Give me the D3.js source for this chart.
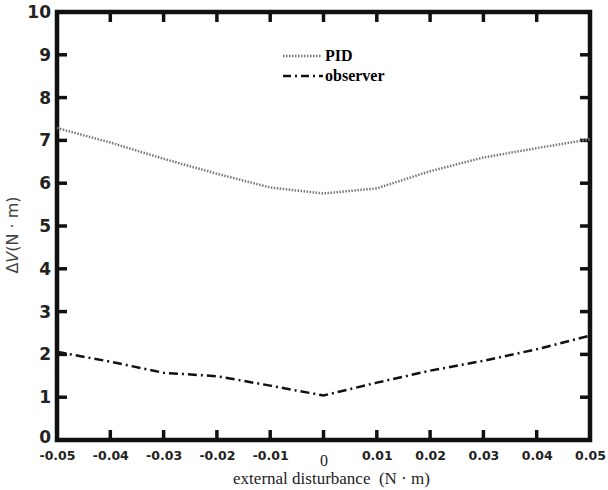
<!DOCTYPE html>
<meta charset="utf-8">
<script src="https://d3js.org/d3.v7.min.js"></script>
<style>
body { margin: 0; background: #fff; }
</style>
<body></body>
<script>

// x positions (external disturbance, N·m)
var disturbance = [-0.05, -0.04, -0.03, -0.02, -0.01, 0, 0.01, 0.02, 0.03, 0.04, 0.05];
// ΔV values
var pidValues = [7.29, 6.95, 6.57, 6.22, 5.9, 5.76, 5.88, 6.28, 6.6, 6.82, 7.03];
var observerValues = [2.06, 1.83, 1.57, 1.49, 1.27, 1.04, 1.34, 1.62, 1.85, 2.12, 2.44];
var xTicks = [-0.05, -0.04, -0.03, -0.02, -0.01, 0, 0.01, 0.02, 0.03, 0.04, 0.05];
var xTickLabels = ["-0.05", "-0.04", "-0.03", "-0.02", "-0.01", "0", "0.01", "0.02", "0.03", "0.04", "0.05"];
var yTicks = [0, 1, 2, 3, 4, 5, 6, 7, 8, 9, 10];

var W = 608, H = 490;
var margin = {top: 12, right: 18, bottom: 50, left: 57};
var width = W - margin.left - margin.right;
var height = H - margin.top - margin.bottom;

var svg = d3.select("body").append("svg")
    .attr("width", W)
    .attr("height", H)
  .append("g")
    .attr("transform", "translate(" + margin.left + "," + margin.top + ")");

var x = d3.scaleLinear().domain([-0.05, 0.05]).range([0, width]);
var y = d3.scaleLinear().domain([0, 10]).range([height, 0]);

// labels from the axes, tick marks drawn inward below
var xAxisB = d3.axisBottom(x).tickValues(xTicks).tickSize(0).tickPadding(11)
  .tickFormat(function(d, i) { return xTickLabels[i]; });
var yAxisL = d3.axisLeft(y).tickValues(yTicks).tickSize(0).tickPadding(12);

var gb = svg.append("g").attr("transform", "translate(0," + height + ")").call(xAxisB);
gb.select(".domain").remove();
gb.selectAll(".tick text")
  .style("font-family", "'DejaVu Sans', sans-serif").style("font-weight", "bold")
  .style("font-size", "12.5px").attr("fill", "#222");
gb.selectAll(".tick text").filter(function(d) { return d === 0; })
  .style("font-family", "'Liberation Serif', serif").style("font-weight", "normal")
  .style("font-size", "16px").attr("dy", "0.95em");

var gl = svg.append("g").call(yAxisL);
gl.select(".domain").remove();
gl.selectAll(".tick text")
  .style("font-family", "'DejaVu Sans', sans-serif").style("font-weight", "bold")
  .style("font-size", "17px").attr("fill", "#222").attr("dx", 6);
gl.selectAll(".tick text").filter(function(d) { return d === 0; }).attr("dy", "0.15em");

// frame
svg.append("rect")
  .attr("width", width).attr("height", height)
  .attr("fill", "none").attr("stroke", "#111").attr("stroke-width", 4.5);

// inward tick marks on all four sides
var tl = 10;
var ticks = svg.append("g");
function tickLines(cls, data, x1, x2, y1, y2) {
  ticks.selectAll("." + cls).data(data).enter().append("line")
    .attr("class", cls)
    .attr("x1", x1).attr("x2", x2).attr("y1", y1).attr("y2", y2)
    .style("stroke", "#111").style("stroke-width", "3.5px");
}
tickLines("xb", xTicks, function(d) { return x(d); }, function(d) { return x(d); }, height, height - tl);
tickLines("xt", xTicks, function(d) { return x(d); }, function(d) { return x(d); }, 0, tl);
tickLines("yl", yTicks, 0, tl, function(d) { return y(d); }, function(d) { return y(d); });
tickLines("yr", yTicks, width, width - tl, function(d) { return y(d); }, function(d) { return y(d); });

var line = d3.line()
  .x(function(d) { return x(d[0]); })
  .y(function(d) { return y(d[1]); });

svg.append("path")
  .datum(d3.zip(disturbance, pidValues))
  .attr("d", line)
  .attr("fill", "none").attr("stroke", "#777").attr("stroke-width", 2.5)
  .attr("stroke-dasharray", "1.5 1.5");

svg.append("path")
  .datum(d3.zip(disturbance, observerValues))
  .attr("d", line)
  .attr("fill", "none").attr("stroke", "#111").attr("stroke-width", 2.5)
  .attr("stroke-dasharray", "9 4 2 4");

// legend
var legend = svg.append("g").attr("transform", "translate(226,44)");
legend.append("line").attr("x1", 0).attr("x2", 38).attr("y1", 0).attr("y2", 0)
  .attr("stroke", "#777").attr("stroke-width", 2.5).attr("stroke-dasharray", "1.5 1.5");
legend.append("text").attr("x", 42).attr("y", 5).text("PID")
  .style("font-family", "'Liberation Serif', serif").style("font-weight", "bold").style("font-size", "16px");
legend.append("line").attr("x1", 0).attr("x2", 40).attr("y1", 20).attr("y2", 20)
  .attr("stroke", "#111").attr("stroke-width", 2.5).attr("stroke-dasharray", "8 4 2 4");
legend.append("text").attr("x", 42).attr("y", 25).text("observer")
  .style("font-family", "'Liberation Serif', serif").style("font-weight", "bold").style("font-size", "16px");

// axis titles
svg.append("text")
  .attr("x", width / 2 + 8).attr("y", height + 44)
  .attr("text-anchor", "middle")
  .style("font-family", "'Liberation Serif', serif").style("font-size", "17px").attr("fill", "#222")
  .text("external disturbance\u2002(N \u00b7 m)");

var yTitle = svg.append("text")
  .attr("transform", "translate(-39," + (height / 2 + 9) + ") rotate(-90)")
  .attr("text-anchor", "middle")
  .style("font-family", "'DejaVu Sans', sans-serif").style("font-size", "16px").attr("fill", "#444");
yTitle.append("tspan").text("\u0394");
yTitle.append("tspan").style("font-style", "italic").text("V");
yTitle.append("tspan").text("(N \u00b7 m)");

</script>
